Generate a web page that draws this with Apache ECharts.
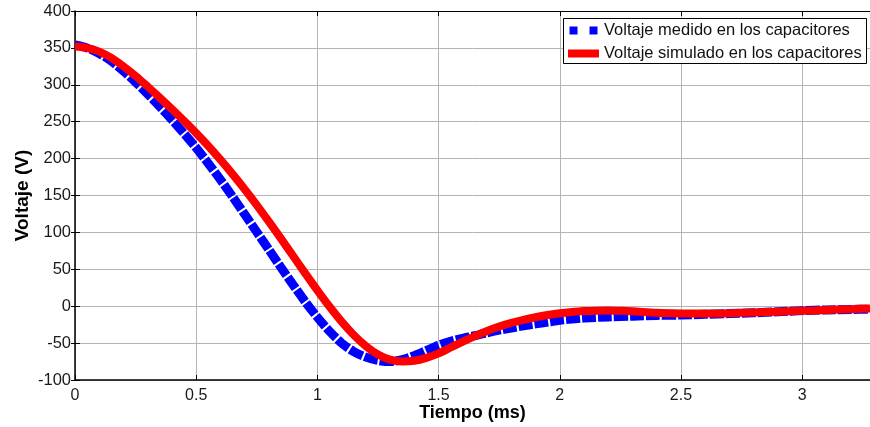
<!DOCTYPE html>
<html>
<head>
<meta charset="utf-8">
<script src="https://cdn.jsdelivr.net/npm/echarts@6/dist/echarts.min.js"></script>
<style>
  html, body { margin: 0; padding: 0; background: #fff; }
  #chart { width: 870px; height: 427px; }
</style>
</head>
<body>
<div id="chart"></div>
<script>
// Measured capacitor voltage (ms, V)
const measuredTime = [0, 0.05, 0.10, 0.15, 0.20, 0.25, 0.30, 0.35, 0.40, 0.45, 0.50, 0.55, 0.60, 0.65, 0.70, 0.75, 0.80, 0.85, 0.90, 0.95,
  1.00, 1.05, 1.10, 1.15, 1.20, 1.25, 1.30, 1.35, 1.40, 1.45, 1.50, 1.55, 1.60, 1.65, 1.70, 1.75, 1.80, 1.85, 1.90, 1.95,
  2.00, 2.05, 2.10, 2.20, 2.30, 2.40, 2.50, 2.60, 2.70, 2.80, 2.90, 3.00, 3.10, 3.20, 3.28];
const measuredVolts = [354, 350, 342.5, 332, 318.5, 303.5, 287.5, 270.5, 252.5, 234, 214.5, 193.5, 171.5, 148.5, 124.5, 100.5, 76.5, 52.5, 29, 6,
  -15, -34, -50, -61.5, -69, -73.5, -75, -72.5, -67, -60, -53, -47.5, -43.5, -40, -36, -32.5, -29.5, -26.5, -24, -21.5,
  -19, -17.5, -16, -14.5, -13.5, -12.5, -12, -11, -10, -9, -7.5, -6, -5, -4.5, -4];

// Simulated capacitor voltage (ms, V)
const simTime = [0, 0.05, 0.10, 0.15, 0.20, 0.25, 0.30, 0.35, 0.40, 0.45, 0.50, 0.55, 0.60, 0.65, 0.70, 0.75, 0.80, 0.85, 0.90, 0.95,
  1.00, 1.05, 1.10, 1.15, 1.20, 1.25, 1.30, 1.35, 1.40, 1.45, 1.50, 1.55, 1.60, 1.65, 1.70, 1.75, 1.80, 1.85, 1.90, 1.95,
  2.00, 2.05, 2.10, 2.15, 2.20, 2.25, 2.30, 2.40, 2.50, 2.60, 2.70, 2.80, 2.90, 3.00, 3.10, 3.20, 3.28];
const simVolts = [352, 350, 345, 336.5, 325, 312, 297.5, 282.5, 267, 251, 234.5, 217, 198.5, 179, 158.5, 137, 114.5, 91.5, 68, 44.5,
  21.5, -0.5, -21, -39, -54, -65.5, -72.5, -75, -74, -70, -64, -56, -48, -40.5, -33.5, -27.5, -22.5, -18.5, -15, -12,
  -9.5, -7.8, -6.6, -6, -5.9, -6.3, -7, -9, -9.8, -10, -9.5, -8.5, -7.5, -6.3, -5.2, -4, -3];

const seriesNames = ['Voltaje medido en los capacitores', 'Voltaje simulado en los capacitores'];
const xTitle = 'Tiempo (ms)';
const yTitle = 'Voltaje (V)';

const FONT = '"Liberation Sans", Arial, Helvetica, sans-serif';

const pairs = (xs, ys) => xs.map((x, i) => [x, ys[i]]);

const chart = echarts.init(document.getElementById('chart'), null, { renderer: 'canvas' });

const baseX = { type: 'value', min: 0, max: 3.28, interval: 0.5 };
const baseY = { type: 'value', min: -100, max: 400, interval: 50 };

chart.setOption({
  animation: false,
  backgroundColor: '#ffffff',
  grid: { left: 75, right: 0, top: 11, bottom: 47, containLabel: false, outerBoundsMode: 'none' },
  xAxis: [
    Object.assign({}, baseX, {
      position: 'bottom',
      name: xTitle,
      nameLocation: 'middle',
      nameGap: 24,
      nameMoveOverlap: false,
      nameTextStyle: { fontFamily: FONT, fontSize: 18, fontWeight: 'bold', color: '#000' },
      axisLine: { show: true, onZero: false, lineStyle: { color: '#000', width: 1.5 } },
      axisTick: { show: true, inside: true, length: 5, lineStyle: { color: '#000' } },
      axisLabel: { show: true, showMaxLabel: false, margin: 8, fontFamily: FONT, fontSize: 16, color: '#1a1a1a' },
      splitLine: { show: true, lineStyle: { color: '#b4b4b4', width: 1 } }
    }),
    Object.assign({}, baseX, {
      position: 'top',
      axisLine: { show: true, onZero: false, lineStyle: { color: '#000', width: 1.2 } },
      axisTick: { show: true, inside: true, length: 5, lineStyle: { color: '#000' } },
      axisLabel: { show: false },
      splitLine: { show: false }
    })
  ],
  yAxis: [
    Object.assign({}, baseY, {
      position: 'left',
      name: yTitle,
      nameLocation: 'middle',
      nameGap: 43,
      nameMoveOverlap: false,
      nameRotate: 90,
      nameTextStyle: { fontFamily: FONT, fontSize: 19, fontWeight: 'bold', color: '#000' },
      axisLine: { show: true, onZero: false, lineStyle: { color: '#000', width: 1.5 } },
      axisTick: { show: true, inside: true, length: 5, lineStyle: { color: '#000' } },
      axisLabel: { show: true, margin: 4, fontFamily: FONT, fontSize: 16.5, color: '#1a1a1a' },
      splitLine: { show: true, lineStyle: { color: '#b4b4b4', width: 1 } }
    }),
    Object.assign({}, baseY, {
      position: 'right',
      axisLine: { show: false },
      axisTick: { show: true, inside: true, length: 4, lineStyle: { color: '#000' } },
      axisLabel: { show: false },
      splitLine: { show: false }
    })
  ],
  legend: {
    orient: 'vertical',
    left: 563,
    top: 20,
    padding: [2, 4, 2, 5],
    itemGap: 6,
    itemWidth: 31,
    itemHeight: 8,
    itemStyle: { borderWidth: 0 },
    textStyle: { fontFamily: FONT, fontSize: 16.5, color: '#111', lineHeight: 17 },
    z: 6,
    data: [
      { name: seriesNames[0], icon: 'path://M0,0H8V8H0Z M20,0H28V8H20Z' },
      { name: seriesNames[1], icon: 'rect' }
    ]
  },
  graphic: [
    {
      type: 'rect',
      z: 5,
      shape: { x: 563.5, y: 18.5, width: 303, height: 45 },
      style: { fill: '#ffffff', stroke: '#000000', lineWidth: 1 }
    }
  ],
  series: [
    {
      name: seriesNames[0],
      type: 'line',
      data: pairs(measuredTime, measuredVolts),
      smooth: 0.3,
      showSymbol: false,
      symbol: 'none',
      z: 2,
      itemStyle: { color: '#0000ff' },
      lineStyle: { color: '#0000ff', width: 9, type: [14, 2], cap: 'butt', join: 'round' }
    },
    {
      name: seriesNames[1],
      type: 'line',
      data: pairs(simTime, simVolts),
      smooth: 0.3,
      showSymbol: false,
      symbol: 'none',
      z: 3,
      itemStyle: { color: '#ff0000' },
      lineStyle: { color: '#ff0000', width: 8, type: 'solid', cap: 'butt', join: 'round' }
    }
  ]
});
</script>
</body>
</html>
